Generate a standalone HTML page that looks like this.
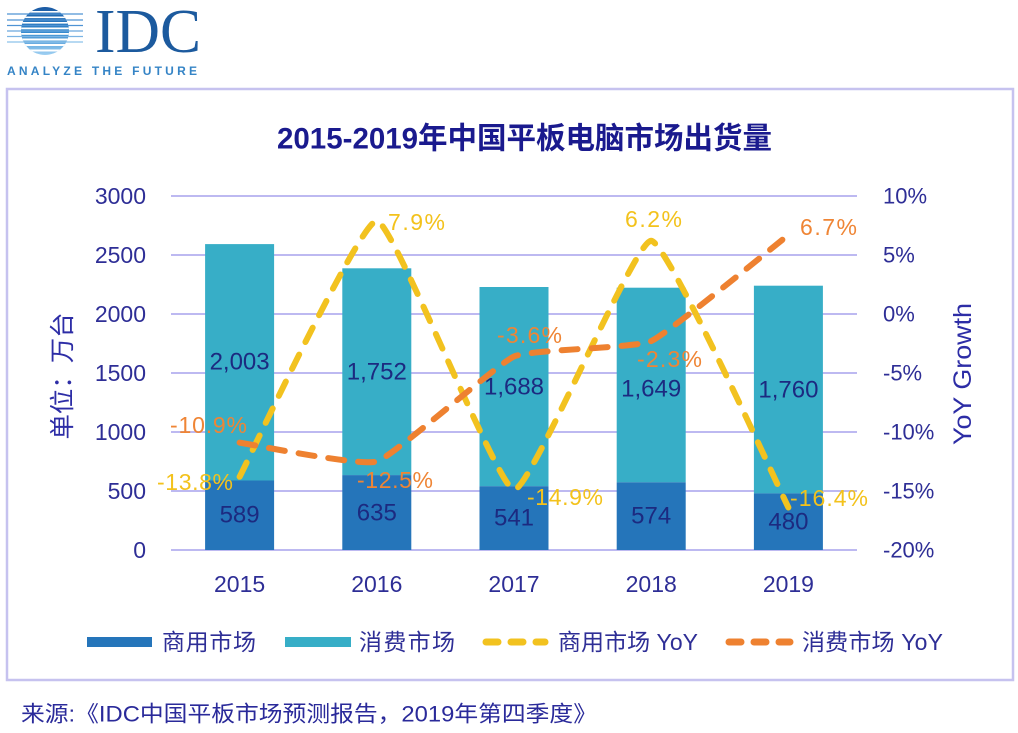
<!DOCTYPE html>
<html><head><meta charset="utf-8"><style>
html,body{margin:0;padding:0;background:#fff;}
svg{display:block;}
text{font-family:"Liberation Sans","Noto Sans CJK SC",sans-serif;}
</style></head><body>
<svg width="1018" height="733" viewBox="0 0 1018 733" xmlns="http://www.w3.org/2000/svg">
<defs>
<clipPath id="sph"><circle cx="45" cy="31" r="24"/></clipPath>
<linearGradient id="sg" x1="0" y1="0" x2="0" y2="1">
<stop offset="0" stop-color="#1b5aa3"/><stop offset="0.5" stop-color="#2f86cc"/><stop offset="1" stop-color="#9fd0f2"/>
</linearGradient>
</defs>
<rect width="1018" height="733" fill="#fff"/>
<!-- logo -->
<g clip-path="url(#sph)">
<rect x="20" y="7" width="50" height="48" fill="url(#sg)"/>
<g fill="#fff">
<rect x="20" y="11" width="50" height="1.6"/>
<rect x="20" y="16.5" width="50" height="1.6"/>
<rect x="20" y="22" width="50" height="1.6"/>
<rect x="20" y="27.5" width="50" height="1.8"/>
<rect x="20" y="33" width="50" height="1.8"/>
<rect x="20" y="38.5" width="50" height="2"/>
<rect x="20" y="44" width="50" height="2"/>
<rect x="20" y="49.5" width="50" height="2"/>
</g>
</g>
<g stroke="#4f93d4" stroke-width="1.3">
<line x1="7" y1="14" x2="83" y2="14"/>
<line x1="7" y1="20" x2="83" y2="20"/>
<line x1="7" y1="25.5" x2="83" y2="25.5"/>
<line x1="7" y1="31" x2="83" y2="31" stroke="#6aa6dd"/>
<line x1="7" y1="36.5" x2="83" y2="36.5" stroke="#7bb4e4"/>
<line x1="7" y1="42" x2="83" y2="42" stroke="#8cc2ea"/>
</g>
<text x="95" y="52" font-size="62" fill="#1c5a9e" textLength="106" lengthAdjust="spacingAndGlyphs" style="font-family:'Liberation Serif',serif">IDC</text>
<text x="7" y="75" font-size="12" fill="#3584c6" textLength="190" lengthAdjust="spacing" font-weight="bold">ANALYZE THE FUTURE</text>

<!-- border -->
<rect x="7" y="89" width="1006" height="591" fill="none" stroke="#c6c2ef" stroke-width="2.5"/>

<!-- title -->
<text x="277" y="139" dominant-baseline="central" font-size="30" font-weight="bold" fill="#1a1a8e" textLength="495" lengthAdjust="spacingAndGlyphs">2015-2019年中国平板电脑市场出货量</text>

<!-- gridlines -->
<g stroke="#bdb9f1" stroke-width="2">
<line x1="171" y1="196" x2="857" y2="196"/>
<line x1="171" y1="255" x2="857" y2="255"/>
<line x1="171" y1="314" x2="857" y2="314"/>
<line x1="171" y1="373" x2="857" y2="373"/>
<line x1="171" y1="432" x2="857" y2="432"/>
<line x1="171" y1="491" x2="857" y2="491"/>
<line x1="171" y1="550" x2="857" y2="550"/>
</g>

<!-- left ticks -->
<g font-size="23" fill="#2e2e96" text-anchor="end" dominant-baseline="central">
<text x="146" y="196">3000</text>
<text x="146" y="255">2500</text>
<text x="146" y="314">2000</text>
<text x="146" y="373">1500</text>
<text x="146" y="432">1000</text>
<text x="146" y="491">500</text>
<text x="146" y="550">0</text>
</g>
<!-- right ticks -->
<g font-size="22" fill="#2e2e96" dominant-baseline="central">
<text x="883" y="196">10%</text>
<text x="883" y="255">5%</text>
<text x="883" y="314">0%</text>
<text x="883" y="373">-5%</text>
<text x="883" y="432">-10%</text>
<text x="883" y="491">-15%</text>
<text x="883" y="550">-20%</text>
</g>

<!-- axis titles -->
<text transform="translate(63,376) rotate(-90)" text-anchor="middle" dominant-baseline="central" font-size="25" fill="#2d2da6" textLength="127" lengthAdjust="spacingAndGlyphs">单位：万台</text>
<text transform="translate(963,374) rotate(-90)" text-anchor="middle" dominant-baseline="central" font-size="25" fill="#2d2da6" textLength="142" lengthAdjust="spacingAndGlyphs">YoY Growth</text>

<!-- bars -->
<g fill="#37aec7">
<rect x="205.1" y="244.1" width="69" height="236.4"/>
<rect x="342.3" y="268.3" width="69" height="206.8"/>
<rect x="479.5" y="287.0" width="69" height="199.2"/>
<rect x="616.7" y="287.7" width="69" height="194.6"/>
<rect x="753.9" y="285.7" width="69" height="207.7"/>
</g>
<g fill="#2575ba">
<rect x="205.1" y="480.5" width="69" height="69.5"/>
<rect x="342.3" y="475.1" width="69" height="74.9"/>
<rect x="479.5" y="486.2" width="69" height="63.8"/>
<rect x="616.7" y="482.3" width="69" height="67.7"/>
<rect x="753.9" y="493.4" width="69" height="56.6"/>
</g>

<!-- bar labels -->
<g font-size="24" fill="#1c2a80" text-anchor="middle" dominant-baseline="central">
<text x="239.6" y="362">2,003</text>
<text x="376.8" y="372">1,752</text>
<text x="514" y="387">1,688</text>
<text x="651.2" y="389">1,649</text>
<text x="788.4" y="390">1,760</text>
<text x="239.6" y="515">589</text>
<text x="376.8" y="513">635</text>
<text x="514" y="518">541</text>
<text x="651.2" y="516">574</text>
<text x="788.4" y="522">480</text>
</g>

<!-- x labels -->
<g font-size="23" fill="#2e2e96" text-anchor="middle" dominant-baseline="central">
<text x="239.6" y="584">2015</text>
<text x="376.8" y="584">2016</text>
<text x="514" y="584">2017</text>
<text x="651.2" y="584">2018</text>
<text x="788.4" y="584">2019</text>
</g>

<!-- lines -->
<path d="M239.6,476.8 C247.8,461.4 360.3,220.0 376.8,220.8 C393.3,221.6 497.5,488.6 514,489.8 C530.5,491.0 634.7,239.7 651.2,240.8 C667.7,241.9 780.2,491.5 788.4,507.5" fill="none" stroke="#f2c21f" stroke-width="6" stroke-dasharray="16 14" stroke-linecap="round"/>
<path d="M239.6,442.6 C247.8,443.7 360.3,466.7 376.8,461.5 C393.3,456.3 497.5,363.7 514,356.5 C530.5,349.3 634.7,348.4 651.2,341.1 C667.7,333.8 780.2,241.3 788.4,234.9" fill="none" stroke="#ee8130" stroke-width="6" stroke-dasharray="16 14" stroke-linecap="round"/>

<!-- data labels -->
<g font-size="23" dominant-baseline="central" lengthAdjust="spacingAndGlyphs">
<text x="157" y="482" fill="#f3c21c" textLength="76">-13.8%</text>
<text x="170" y="425" fill="#ef8535" textLength="77">-10.9%</text>
<text x="357" y="480" fill="#ef8535" textLength="76">-12.5%</text>
<text x="388" y="222" fill="#f3c21c" textLength="57">7.9%</text>
<text x="497" y="335" fill="#ef8535" textLength="65">-3.6%</text>
<text x="527" y="497" fill="#f3c21c" textLength="76">-14.9%</text>
<text x="625" y="219" fill="#f3c21c" textLength="57">6.2%</text>
<text x="637" y="359" fill="#ef8535" textLength="65">-2.3%</text>
<text x="800" y="227" fill="#ef8535" textLength="57">6.7%</text>
<text x="790" y="498" fill="#f3c21c" textLength="78">-16.4%</text>
</g>

<!-- legend -->
<rect x="87" y="637" width="65" height="10" fill="#2575ba"/>
<rect x="285" y="637" width="66" height="10" fill="#37aec7"/>
<line x1="486" y1="642" x2="545" y2="642" stroke="#f2c21f" stroke-width="7" stroke-dasharray="12 13" stroke-linecap="round"/>
<line x1="729" y1="642" x2="790" y2="642" stroke="#ee8130" stroke-width="7" stroke-dasharray="12 13" stroke-linecap="round"/>
<g font-size="23" fill="#2e2e96" dominant-baseline="central" lengthAdjust="spacingAndGlyphs">
<text x="162" y="642" textLength="94">商用市场</text>
<text x="359" y="642" textLength="96">消费市场</text>
<text x="558" y="642" textLength="140">商用市场 YoY</text>
<text x="802" y="642" textLength="141">消费市场 YoY</text>
</g>

<!-- footer -->
<text x="21" y="714" font-size="22" fill="#2a2a9a" dominant-baseline="central" textLength="576" lengthAdjust="spacingAndGlyphs">来源:《IDC中国平板市场预测报告，2019年第四季度》</text>
</svg>
</body></html>
